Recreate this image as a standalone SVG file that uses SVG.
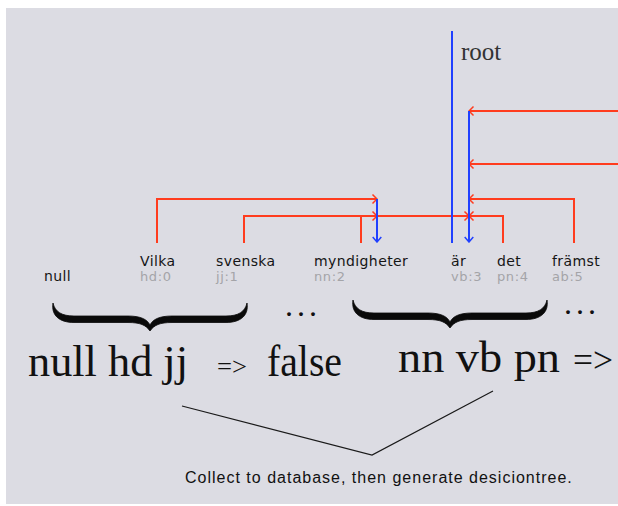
<svg xmlns="http://www.w3.org/2000/svg" width="618" height="506" viewBox="0 0 618 506">
  <style>
    .word { font-family: "DejaVu Sans", Verdana, sans-serif; font-size: 14px; letter-spacing: 0.4px; fill: #151515; }
    .tag  { font-family: "DejaVu Sans", Verdana, sans-serif; font-size: 13px; letter-spacing: 0.6px; fill: #a4a4a8; }
    .big  { font-family: "Liberation Serif", "Times New Roman", serif; fill: #111; }
    .red  { fill: none; stroke: #ff3c1e; stroke-width: 2; }
    .blue { fill: none; stroke: #2040ff; stroke-width: 2; }
    .tree { fill: none; stroke: #1a1a1a; stroke-width: 1.2; }
    .note { font-family: "Liberation Sans", Arial, sans-serif; font-size: 16px; letter-spacing: 1px; fill: #111; }
  </style>
  <defs>
    <marker id="ah-red" viewBox="-7 -6 8 12" refX="0" refY="0" markerWidth="8" markerHeight="12" markerUnits="userSpaceOnUse" orient="auto">
      <path d="M-4.5,-4.5 L0,0 L-4.5,4.5" fill="none" stroke="#ff3c1e" stroke-width="1.5"/>
    </marker>
    <marker id="ah-blue" viewBox="-7 -6 8 12" refX="0" refY="0" markerWidth="8" markerHeight="12" markerUnits="userSpaceOnUse" orient="auto">
      <path d="M-5,-4.3 L0,0 L-5,4.3" fill="none" stroke="#2040ff" stroke-width="1.5"/>
    </marker>
    <!-- horizontal under-brace, centred on x=0, end tips at y=0 -->
    <path id="brace" d="M-97,0 C-95,9 -88,13 -76,13 L-22,13 C-10,13 -3,16 0,22 C3,16 10,13 22,13 L76,13 C88,13 95,9 97,0 C99,12 91,19.5 76,19.5 L22,19.5 C10,19.5 4,22 0,28 C-4,22 -10,19.5 -22,19.5 L-76,19.5 C-91,19.5 -99,12 -97,0 Z" fill="#0a0a0a" stroke="#0a0a0a" stroke-width="0.8"/>
  </defs>

  <rect x="0" y="0" width="618" height="506" fill="#ffffff"/>
  <rect x="6" y="8" width="612" height="496" fill="#dcdce3"/>

  <!-- dependency arcs -->
  <g id="connectors">
    <path class="red" d="M157,243 V199 H377" marker-end="url(#ah-red)"/>
    <path class="red" d="M244,243 V216 H377" marker-end="url(#ah-red)"/>
    <path class="red" d="M361,243 V216 H469" marker-end="url(#ah-red)"/>
    <path class="red" d="M503,243 V216 H469" marker-end="url(#ah-red)"/>
    <path class="red" d="M574,243 V199 H469" marker-end="url(#ah-red)"/>
    <path class="red" d="M618,111 H469" marker-end="url(#ah-red)"/>
    <path class="red" d="M618,164 H469" marker-end="url(#ah-red)"/>
    <path class="blue" d="M377,199 V242" marker-end="url(#ah-blue)"/>
    <path class="blue" d="M469,111 V242" marker-end="url(#ah-blue)"/>
    <path class="blue" d="M452,31 V243"/>
    <!-- lines joining the two rules to the caption -->
    <path class="tree" d="M182,406 L372,455 L493,391"/>
  </g>

  <g id="root">
    <text x="461" y="60" font-family="'Liberation Serif', 'Times New Roman', serif" font-size="25" fill="#333">root</text>
  </g>

  <g id="n-null"><text class="word" x="44" y="281" fill="#222">null</text></g>
  <g id="n-vilka"><text class="word" x="140" y="266">Vilka</text><text class="tag" x="140" y="281">hd:0</text></g>
  <g id="n-svenska"><text class="word" x="216" y="266">svenska</text><text class="tag" x="216" y="281">jj:1</text></g>
  <g id="n-myndigheter"><text class="word" x="314" y="266">myndigheter</text><text class="tag" x="314" y="281">nn:2</text></g>
  <g id="n-ar"><text class="word" x="451" y="266">är</text><text class="tag" x="451" y="281">vb:3</text></g>
  <g id="n-det"><text class="word" x="497" y="266">det</text><text class="tag" x="497" y="281">pn:4</text></g>
  <g id="n-framst"><text class="word" x="552" y="266">främst</text><text class="tag" x="552" y="281">ab:5</text></g>

  <!-- windows of three tags -->
  <g id="window-1">
    <use href="#brace" transform="translate(150,303)"/>
    <text class="big" x="28" y="376" font-size="44" textLength="160" lengthAdjust="spacingAndGlyphs">null hd jj</text>
    <text class="big" x="217" y="375" font-size="26" textLength="30" lengthAdjust="spacingAndGlyphs">=&gt;</text>
    <text class="big" x="267" y="376" font-size="44" textLength="75" lengthAdjust="spacingAndGlyphs">false</text>
  </g>
  <g id="dots-1"><text class="big" x="285" y="316" font-size="32" letter-spacing="4">...</text></g>

  <g id="window-2">
    <use href="#brace" transform="translate(450,300)"/>
    <text class="big" x="398" y="372" font-size="44" textLength="162" lengthAdjust="spacingAndGlyphs">nn vb pn</text>
    <text class="big" x="573" y="372" font-size="36" textLength="40" lengthAdjust="spacingAndGlyphs">=&gt;</text>
  </g>
  <g id="dots-2"><text class="big" x="564" y="314" font-size="32" letter-spacing="4">...</text></g>

  <g id="caption">
    <text class="note" x="185" y="483">Collect to database, then generate desiciontree.</text>
  </g>
</svg>
